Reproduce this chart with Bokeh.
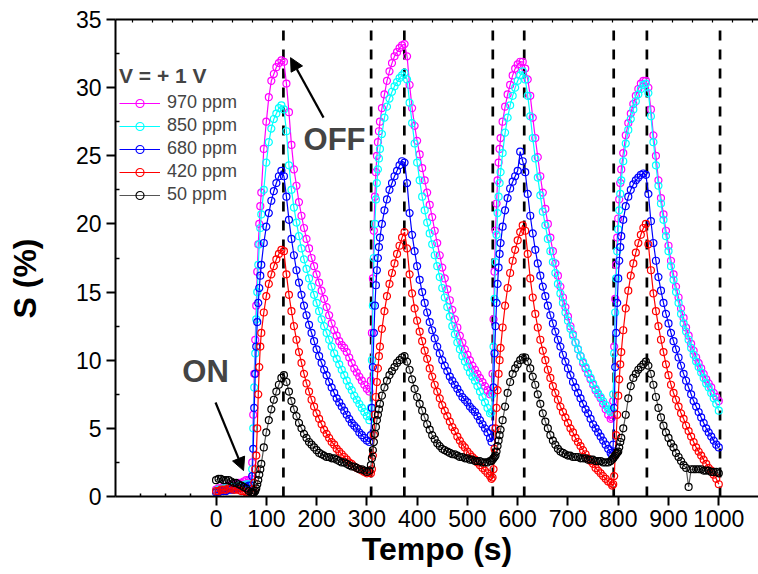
import numpy as np
from bokeh.plotting import figure
from bokeh.models import (Range1d, LinearAxis, FixedTicker, Legend, LegendItem,
                          Label, Arrow, NormalHead, ColumnDataSource, Title)
from bokeh.embed import file_html
from bokeh.resources import INLINE

# ---------------- data ----------------
tempo = [0, 5, 10, 15, 20, 25, 30, 35, 40, 45, 50, 55, 60, 65, 70,
         72, 74, 76, 78, 80, 82, 84, 86, 88, 90,
         95, 100, 105, 110, 115, 120, 125, 130, 135, 140, 145, 150, 155, 160, 165, 170,
         175, 180, 185, 190, 195, 200, 205, 210, 215, 220, 225, 230, 235, 240, 245, 250,
         255, 260, 265, 270, 275, 280, 285, 290, 295, 300, 305,
         308, 310, 312, 314, 316, 318, 320, 322, 324, 326,
         330, 335, 340, 345, 350, 355, 360, 365, 370, 375, 380, 385, 390, 395, 400, 405,
         410, 415, 420, 425, 430, 435, 440, 445, 450, 455, 460, 465, 470, 475, 480, 485,
         490, 495, 500, 505, 510, 515, 520, 525, 530, 535, 540, 545,
         548, 550, 552, 554, 556, 558, 560, 562, 564, 566,
         570, 575, 580, 585, 590, 595, 600, 605, 610, 615, 620, 625, 630, 635, 640, 645,
         650, 655, 660, 665, 670, 675, 680, 685, 690, 695, 700, 705, 710, 715, 720, 725,
         730, 735, 740, 745, 750, 755, 760, 765, 770, 775, 780, 785,
         788, 790, 792, 794, 796, 798, 800, 802, 804, 806,
         810, 815, 820, 825, 830, 835, 840, 845, 850, 855, 860, 865, 870, 875, 880, 885,
         890, 895, 900, 905, 910, 915, 920, 925, 930, 935, 940, 945, 950, 955, 960, 965,
         970, 975, 980, 985, 990, 995, 1000]

s_970 = [0.5, 0.6, 0.6, 0.7, 0.7, 0.8, 0.8, 0.9, 0.9, 1.0, 1.0, 1.1, 1.2, 1.2, 1.3,
         2.5, 6.0, 9.0, 11.5, 14.0, 16.5, 18.5, 20.0, 21.3, 22.3,
         25.5, 27.5, 29.3, 30.5, 31.0, 31.5, 31.8, 32.0, 31.9, 30.3, 28.2, 25.8, 24.0, 22.8, 21.6, 20.6,
         19.7, 18.9, 18.2, 17.5, 16.9, 16.3, 15.7, 15.1, 14.5, 13.9, 13.3, 12.7, 12.2, 11.8, 11.4, 11.1,
         10.9, 10.6, 10.2, 9.8, 9.4, 9.1, 8.8, 8.5, 8.2, 7.9, 7.7,
         8.5, 12.0, 16.0, 19.5, 22.0, 23.8, 25.0, 26.0, 26.8, 27.5,
         28.5, 29.5, 30.5, 31.2, 31.8, 32.3, 32.6, 32.9, 33.1, 33.2, 32.3, 30.2, 28.5, 27.2, 26.1, 25.1,
         24.1, 23.2, 22.3, 21.4, 20.5, 19.5, 18.6, 17.7, 16.8, 16.0, 15.2, 14.4, 13.7, 13.0, 12.4, 11.8,
         11.3, 10.8, 10.4, 10.0, 9.6, 9.3, 9.0, 8.7, 8.4, 8.1, 7.8, 7.5,
         7.6, 9.0, 13.0, 16.5, 19.5, 21.5, 23.2, 24.5, 25.5, 26.3,
         27.5, 28.6, 29.5, 30.2, 30.9, 31.4, 31.7, 31.9, 31.9, 31.4, 30.6, 29.4, 27.8, 26.3, 24.9, 23.5,
         22.3, 21.1, 20.0, 19.0, 18.0, 17.1, 16.2, 15.4, 14.6, 13.9, 13.2, 12.5, 11.9, 11.3, 10.8, 10.3,
         9.8, 9.4, 9.0, 8.6, 8.2, 7.8, 7.5, 7.2, 6.8, 6.4, 6.0, 5.7,
         5.8, 7.0, 11.0, 14.5, 17.0, 19.0, 20.4, 21.8, 23.0, 24.0,
         25.2, 26.5, 27.4, 28.1, 28.8, 29.4, 29.9, 30.3, 30.5, 30.5, 30.0, 28.4, 26.5, 25.0, 23.2, 21.9,
         20.7, 19.5, 18.4, 17.3, 16.3, 15.4, 14.6, 13.8, 13.1, 12.4, 11.8, 11.2, 10.7, 10.2, 9.8, 9.4,
         9.0, 8.6, 8.3, 8.0, 7.6, 7.3, 7.0]

s_850 = [0.4, 0.5, 0.5, 0.6, 0.6, 0.6, 0.7, 0.7, 0.7, 0.8, 0.8, 0.8, 0.9, 0.9, 0.9,
         2.0, 5.0, 8.0, 10.5, 13.0, 15.0, 17.0, 18.5, 19.7, 20.7,
         22.5, 24.5, 26.0, 27.0, 27.7, 28.1, 28.5, 28.7, 28.4, 26.8, 24.3, 22.5, 21.2, 20.1, 19.1, 18.2,
         17.4, 16.7, 16.0, 15.4, 14.8, 14.2, 13.6, 13.0, 12.5, 12.0, 11.5, 11.0, 10.5, 10.1, 9.7, 9.3,
         8.9, 8.5, 8.1, 7.8, 7.4, 7.1, 6.8, 6.5, 6.2, 5.9, 5.6,
         6.5, 10.0, 14.0, 17.5, 20.0, 21.8, 23.0, 24.0, 24.8, 25.5,
         26.6, 27.8, 28.6, 29.2, 29.7, 30.1, 30.4, 30.7, 30.9, 31.1, 30.6, 28.9, 27.4, 25.9, 24.5, 23.2,
         22.0, 21.0, 20.1, 19.3, 18.5, 17.7, 16.9, 16.1, 15.3, 14.6, 13.9, 13.2, 12.5, 11.9, 11.3, 10.8,
         10.3, 9.9, 9.5, 9.1, 8.8, 8.5, 8.1, 7.7, 7.3, 6.9, 6.5, 6.1,
         6.2, 7.5, 11.0, 14.5, 17.2, 19.2, 20.8, 22.0, 23.0, 23.8,
         25.2, 26.7, 27.8, 28.7, 29.4, 30.0, 30.5, 30.9, 31.2, 30.6, 29.4, 27.9, 26.3, 24.8, 23.4, 22.1,
         20.9, 19.9, 18.9, 18.0, 17.2, 16.4, 15.6, 14.9, 14.2, 13.5, 12.9, 12.3, 11.8, 11.3, 10.8, 10.3,
         9.9, 9.5, 9.1, 8.7, 8.3, 7.9, 7.6, 7.3, 7.0, 6.7, 6.4, 6.2,
         6.3, 7.5, 10.5, 13.5, 16.0, 18.0, 19.6, 21.0, 22.2, 23.2,
         24.6, 25.9, 26.9, 27.7, 28.4, 29.0, 29.5, 29.9, 30.2, 30.3, 29.6, 27.9, 26.0, 24.3, 22.8, 21.5,
         20.3, 19.1, 18.0, 16.9, 15.9, 15.0, 14.2, 13.4, 12.7, 12.1, 11.5, 10.9, 10.4, 9.9, 9.5, 9.1,
         8.7, 8.3, 8.0, 7.6, 7.2, 6.8, 6.3]

s_680 = [0.3, 0.3, 0.4, 0.4, 0.4, 0.5, 0.5, 0.5, 0.6, 0.6, 0.6, 0.7, 0.7, 0.8, 0.8,
         1.5, 3.5, 6.5, 9.0, 11.0, 12.8, 14.2, 15.3, 16.2, 17.0,
         18.6, 19.8, 20.8, 21.7, 22.4, 23.0, 23.5, 23.9, 23.5, 22.0, 20.3, 18.9, 17.7, 16.6, 15.7, 14.8,
         14.0, 13.3, 12.6, 12.0, 11.4, 10.8, 10.3, 9.8, 9.3, 8.9, 8.4, 8.0, 7.6, 7.2, 6.9, 6.6,
         6.3, 6.0, 5.7, 5.4, 5.2, 5.0, 4.7, 4.5, 4.3, 4.1, 4.0,
         4.5, 6.5, 9.5, 12.0, 14.0, 15.5, 16.6, 17.5, 18.3, 19.0,
         20.0, 21.0, 21.8, 22.5, 23.0, 23.5, 23.9, 24.3, 24.6, 24.5, 23.0, 20.8, 19.2, 18.0, 16.9, 15.9,
         15.0, 14.2, 13.5, 12.8, 12.2, 11.6, 11.0, 10.5, 10.0, 9.6, 9.2, 8.8, 8.5, 8.2, 7.9, 7.6,
         7.3, 7.1, 6.9, 6.6, 6.4, 6.2, 5.9, 5.6, 5.3, 5.0, 4.7, 4.3,
         4.0, 5.0, 8.0, 10.5, 12.5, 14.2, 15.6, 16.8, 17.8, 18.6,
         19.8, 21.0, 21.9, 22.6, 23.1, 23.5, 23.9, 25.3, 24.6, 23.8, 22.2, 20.6, 19.3, 18.1, 17.1, 16.2,
         15.4, 14.7, 14.0, 13.3, 12.7, 12.1, 11.5, 11.0, 10.4, 9.9, 9.4, 8.9, 8.4, 8.0, 7.6, 7.2,
         6.8, 6.4, 6.1, 5.7, 5.3, 5.0, 4.7, 4.4, 4.1, 3.8, 3.5, 3.2,
         3.0, 3.8, 6.5, 9.5, 12.0, 14.2, 16.0, 17.3, 18.3, 19.1,
         20.3, 21.3, 22.0, 22.5, 22.9, 23.2, 23.4, 23.6, 23.7, 23.6, 22.2, 20.2, 18.6, 17.3, 16.1, 15.1,
         14.2, 13.4, 12.7, 12.0, 11.4, 10.8, 10.2, 9.6, 9.0, 8.5, 8.0, 7.5, 7.0, 6.6, 6.2, 5.8,
         5.4, 5.0, 4.7, 4.4, 4.1, 3.8, 3.6]

s_420 = [0.4, 0.4, 0.5, 0.5, 0.5, 0.6, 0.6, 0.5, 0.5, 0.5, 0.4, 0.4, 0.3, 0.3, 0.2,
         0.3, 0.5, 1.0, 2.0, 3.0, 5.0, 7.5, 9.5, 11.0, 12.0,
         13.5, 14.7, 15.6, 16.3, 16.9, 17.4, 17.8, 18.1, 18.0, 16.3, 14.8, 13.6, 12.5, 11.5, 10.6, 9.8,
         9.0, 8.3, 7.7, 7.1, 6.6, 6.1, 5.7, 5.3, 4.9, 4.6, 4.3, 4.0, 3.8, 3.5, 3.3, 3.1,
         2.9, 2.7, 2.5, 2.4, 2.2, 2.1, 2.0, 1.9, 1.8, 1.7, 1.8,
         1.7, 2.0, 3.0, 4.5, 6.0, 7.3, 8.4, 9.4, 10.3, 11.0,
         12.3, 13.6, 14.7, 15.6, 16.4, 17.1, 17.8, 18.4, 19.0, 19.4, 18.2, 16.3, 14.9, 13.8, 12.9, 12.1,
         11.4, 10.7, 10.1, 9.4, 8.8, 8.2, 7.7, 7.2, 6.7, 6.3, 5.9, 5.5, 5.1, 4.8, 4.4, 4.1,
         3.8, 3.6, 3.3, 3.1, 2.9, 2.7, 2.5, 2.3, 2.1, 1.9, 1.7, 1.5,
         1.3, 1.4, 2.0, 3.5, 5.0, 6.5, 7.8, 9.0, 10.0, 10.9,
         12.4, 14.0, 15.3, 16.4, 17.3, 18.1, 18.8, 19.4, 19.9, 19.5, 17.8, 16.0, 14.6, 13.4, 12.4, 11.5,
         10.7, 10.0, 9.3, 8.7, 8.1, 7.6, 7.1, 6.6, 6.2, 5.8, 5.4, 5.0, 4.7, 4.3, 4.0, 3.7,
         3.4, 3.1, 2.8, 2.6, 2.4, 2.1, 1.9, 1.7, 1.5, 1.3, 1.1, 1.0,
         0.8, 0.9, 1.5, 3.0, 4.5, 6.0, 7.4, 8.6, 9.7, 10.6,
         12.2, 13.8, 15.1, 16.2, 17.1, 17.9, 18.6, 19.2, 19.7, 20.0, 18.5, 16.6, 14.9, 13.6, 12.5, 11.5,
         10.6, 9.7, 8.9, 8.2, 7.6, 7.1, 6.6, 6.1, 5.7, 5.2, 4.8, 4.4, 4.0, 3.6, 3.3, 3.0,
         2.7, 2.4, 2.1, 1.9, 1.6, 1.3, 0.9]

s_50 = [1.2, 1.3, 1.3, 1.2, 1.2, 1.2, 1.1, 1.0, 1.0, 0.9, 0.8, 0.7, 0.6, 0.4, 0.3,
        0.3, 0.25, 0.3, 0.4, 0.6, 0.9, 1.2, 1.6, 2.0, 2.4,
        3.6, 4.7, 5.6, 6.4, 7.1, 7.7, 8.2, 8.7, 8.9, 8.4, 7.7, 7.0, 6.4, 5.9, 5.4, 5.0,
        4.6, 4.3, 4.0, 3.8, 3.6, 3.4, 3.2, 3.1, 3.0, 2.9, 2.9, 2.8, 2.8, 2.7, 2.6, 2.5,
        2.5, 2.4, 2.3, 2.2, 2.2, 2.1, 2.0, 2.0, 1.9, 1.8, 1.9,
        2.3, 2.8, 3.4, 4.0, 4.6, 5.1, 5.6, 6.0, 6.4, 6.8,
        7.4, 8.0, 8.5, 8.9, 9.2, 9.5, 9.8, 10.0, 10.2, 10.3, 9.9, 9.3, 8.6, 7.9, 7.3, 6.8,
        6.3, 5.8, 5.3, 4.9, 4.5, 4.2, 3.9, 3.7, 3.5, 3.4, 3.3, 3.2, 3.1, 3.1, 3.0, 2.9,
        2.9, 2.8, 2.8, 2.7, 2.7, 2.6, 2.6, 2.6, 2.5, 2.5, 2.5, 2.6,
        2.6, 2.7, 2.8, 2.9, 3.0, 3.3, 3.7, 4.1, 4.5, 4.9,
        5.6, 6.6, 7.6, 8.4, 9.0, 9.4, 9.7, 10.0, 10.2, 10.2, 9.9, 9.4, 8.8, 8.2, 7.5, 6.8,
        6.1, 5.5, 5.0, 4.5, 4.1, 3.8, 3.5, 3.3, 3.2, 3.1, 3.0, 3.0, 2.9, 2.9, 2.9, 2.8,
        2.8, 2.8, 2.7, 2.7, 2.7, 2.6, 2.6, 2.6, 2.5, 2.5, 2.5, 2.6,
        2.7, 2.8, 2.9, 3.0, 3.1, 3.2, 3.3, 3.6, 4.0, 4.3,
        5.0, 6.0, 7.2, 8.1, 8.7, 9.0, 9.3, 9.5, 9.7, 9.9, 9.6, 9.0, 8.2, 7.3, 6.5, 5.8,
        5.2, 4.7, 4.3, 3.9, 3.6, 3.2, 2.9, 2.6, 2.3, 2.1, 0.7, 2.0, 2.0, 2.0, 2.0, 2.0,
        1.9, 1.9, 1.9, 1.8, 1.8, 1.8, 1.7]

series_labels = ["970 ppm", "850 ppm", "680 ppm", "420 ppm", "50 ppm"]
series_colors = ["#FF00FF", "#00FFFF", "#0000FF", "#FF0000", "#000000"]
series_line_colors = ["#FF00FF", "#00FFFF", "#0000FF", "#FF0000", "#555555"]
series_values = [s_970, s_850, s_680, s_420, s_50]

switch_times = [134, 308.5, 374.5, 550.5, 613, 791, 857, 1002.5]
switch_top = 34.2

x_ticks = [0, 100, 200, 300, 400, 500, 600, 700, 800, 900, 1000]
y_ticks = [0, 5, 10, 15, 20, 25, 30, 35]

for v in series_values:
    if len(v) != len(tempo):
        raise SystemExit("length mismatch %d vs %d" % (len(v), len(tempo)))

FONT = "Liberation Sans"

p = figure(width=758, height=574, output_backend="svg", toolbar_location=None,
           x_range=Range1d(-200, 1079), y_range=Range1d(0, 35),
           min_border_left=115, min_border_right=0, min_border_top=19,
           min_border_bottom=78)
p.outline_line_color = None
p.grid.visible = False
p.background_fill_color = "white"
p.border_fill_color = "white"

# bottom axis
xa = p.xaxis[0]
xa.ticker = FixedTicker(ticks=x_ticks, minor_ticks=[-150, -100, -50])
xa.axis_line_width = 2
xa.major_tick_line_width = 2
xa.minor_tick_line_width = 1.5
xa.major_tick_out = 9
xa.major_tick_in = 0
xa.minor_tick_in = 3
xa.minor_tick_out = 0
xa.major_label_text_font = FONT
xa.major_label_text_font_size = "23px"
xa.major_label_text_color = "black"
xa.major_label_standoff = 4
xa.axis_label = "Tempo (s)"
xa.axis_label_text_font = FONT
xa.axis_label_text_font_size = "32px"
xa.axis_label_text_font_style = "bold"
xa.axis_label_text_color = "black"
xa.axis_label_standoff = 1

# left axis
ya = p.yaxis[0]
ya.ticker = FixedTicker(ticks=y_ticks, minor_ticks=[2.5, 7.5, 12.5, 17.5, 22.5, 27.5, 32.5])
ya.axis_line_width = 2
ya.major_tick_line_width = 2
ya.minor_tick_line_width = 1.5
ya.major_tick_out = 9
ya.major_tick_in = 0
ya.minor_tick_in = 4
ya.minor_tick_out = 0
ya.major_label_text_font = FONT
ya.major_label_text_font_size = "23px"
ya.major_label_text_color = "black"
ya.major_label_standoff = 5

# invisible spacer between the tick labels and the y title (minor tick only, no line)
spacer = LinearAxis(ticker=FixedTicker(ticks=[], minor_ticks=[17.5]), axis_line_color=None,
                    major_tick_out=24, major_tick_in=0, minor_tick_out=24, minor_tick_in=0,
                    major_tick_line_color=None, minor_tick_line_color=None)
p.add_layout(spacer, "left")

# y-axis title (side title so it can sit below the frame centre)
p.add_layout(Title(text="S (%)", align="left", offset=178, vertical_align="middle",
                   text_font=FONT, text_font_size="32px", text_font_style="bold",
                   text_color="black", standoff=10), "left")

# top axis (ticks only, no labels)
top_ticks = [float(t) for t in np.arange(-166.8, 1079, 39.8)]
top = LinearAxis(ticker=FixedTicker(ticks=[], minor_ticks=top_ticks),
                 major_tick_in=0, major_tick_out=0, minor_tick_in=3, minor_tick_out=0,
                 axis_line_width=2, minor_tick_line_width=1.2,
                 minor_tick_line_color="black")
p.add_layout(top, "above")

# dashed switching lines
p.segment(x0=switch_times, y0=[0] * len(switch_times), x1=switch_times,
          y1=[switch_top] * len(switch_times), line_color="black",
          line_width=2.7, line_dash="10 9")

# data series
items = []
src = ColumnDataSource(dict(t=tempo, **{"s%d" % i: v for i, v in enumerate(series_values)}))
for i, (lab, col, lcol) in enumerate(zip(series_labels, series_colors, series_line_colors)):
    rl = p.line("t", "s%d" % i, source=src, line_color=lcol, line_width=1.2)
    rs = p.scatter("t", "s%d" % i, source=src, marker="circle", size=7,
                   line_color=col, fill_alpha=0, line_width=1.2)
    items.append(LegendItem(label=lab, renderers=[rl, rs]))

legend = Legend(items=items, location=(4, 291), title="V = + 1 V",
                title_text_font=FONT, title_text_font_style="bold",
                title_text_font_size="21px", title_standoff=4,
                label_text_font=FONT, label_text_font_size="18px",
                glyph_width=41, glyph_height=20, label_height=20, spacing=2,
                label_standoff=7, padding=0, margin=0,
                border_line_color=None, background_fill_alpha=0)
p.add_layout(legend)

# annotations
p.add_layout(Arrow(end=NormalHead(size=13, fill_color="black", line_color="black"),
                   x_start=213.8, y_start=27.8, x_end=148.2, y_end=32.2,
                   line_width=2.2, line_color="black"))
p.add_layout(Arrow(end=NormalHead(size=13, fill_color="black", line_color="black"),
                   x_start=-1, y_start=6.9, x_end=54.7, y_end=1.9,
                   line_width=2.2, line_color="black"))
p.add_layout(Label(x=235.7, y=26.2, text="OFF", text_font=FONT, text_font_size="31px",
                   text_font_style="bold", text_align="center", text_baseline="middle"))
p.add_layout(Label(x=-20.9, y=9.2, text="ON", text_font=FONT, text_font_size="31px",
                   text_font_style="bold", text_align="center", text_baseline="middle"))

open("out.html", "w").write(file_html(p, INLINE))
